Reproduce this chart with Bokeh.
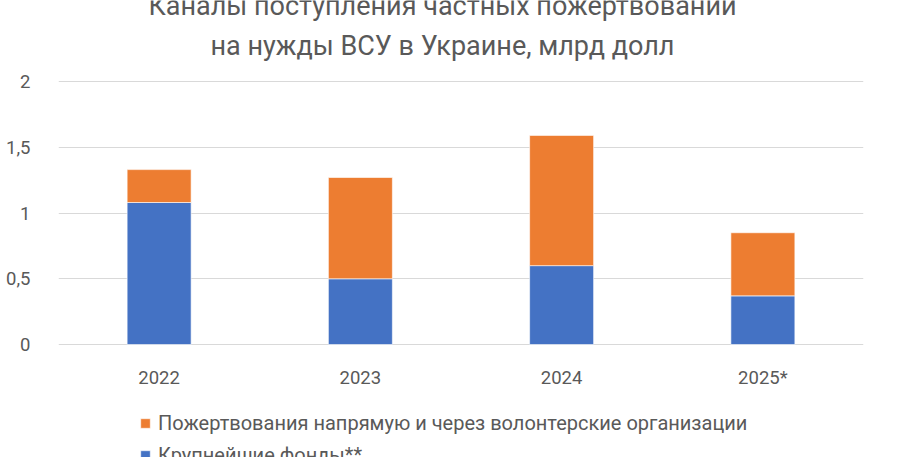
from bokeh.plotting import figure
from bokeh.models import FixedTicker, Legend, LegendItem, Label, Range1d
from bokeh.embed import file_html
from bokeh.resources import INLINE

years = ["2022", "2023", "2024", "2025*"]
funds = [1.08, 0.50, 0.60, 0.37]
direct = [0.25, 0.77, 0.99, 0.48]
y_ticks = [0, 0.5, 1, 1.5, 2]
y_tick_labels = ["0", "0,5", "1", "1,5", "2"]

title_lines = ["Каналы поступления частных пожертвований",
               "на нужды ВСУ в Украине, млрд долл"]
label_direct = "Пожертвования напрямую и через волонтерские организации"
label_funds = "Крупнейшие фонды**"

BLUE = "#4472C4"
ORANGE = "#ED7D31"
TEXT = "#595959"
GRID = "#D9D9D9"
FONT = "Roboto"

# frame covers the whole height so title and legend are not clipped;
# y range is padded so that 0..2 sits where the reference plot area is
p = figure(x_range=years, y_range=Range1d(-0.859, 2.616), width=884, height=457,
           output_backend="svg", toolbar_location=None, tools="",
           min_border_left=58, min_border_right=21,
           min_border_top=0, min_border_bottom=0)
p.outline_line_color = None
p.background_fill_color = "white"
p.border_fill_color = "white"

data = dict(years=years, funds=funds, direct=direct)
r = p.vbar_stack(["funds", "direct"], x="years", width=0.318, source=data,
                 color=[BLUE, ORANGE], line_color="white", line_alpha=0.6)

p.xgrid.grid_line_color = None
p.ygrid.grid_line_color = GRID
p.ygrid.grid_line_width = 1
p.ygrid.level = "underlay"

p.yaxis.ticker = FixedTicker(ticks=y_ticks)
p.yaxis.major_label_overrides = dict(zip(y_ticks, y_tick_labels))
p.xaxis.fixed_location = 0
for ax in (p.xaxis, p.yaxis):
    ax.axis_line_color = None
    ax.major_tick_line_color = None
    ax.minor_tick_line_color = None
    ax.major_label_text_color = TEXT
    ax.major_label_text_font = FONT
    ax.major_label_text_font_size = "18.5px"
p.yaxis.major_label_standoff = 22
p.xaxis.major_label_standoff = 16

legend = Legend(items=[LegendItem(label=label_direct, renderers=[r[1]]),
                       LegendItem(label=label_funds, renderers=[r[0]])],
                location=(81, -10), orientation="vertical",
                padding=0, margin=0, spacing=8,
                glyph_width=12, glyph_height=12, label_height=24,
                label_standoff=7, border_line_color=None,
                background_fill_alpha=0,
                label_text_font=FONT, label_text_font_size="20px",
                label_text_color=TEXT)
p.add_layout(legend, "center")

for txt, y in zip(title_lines, [451.7, 412]):
    p.add_layout(Label(x=384, y=y, x_units="screen", y_units="screen",
                       text=txt, text_align="center",
                       text_baseline="alphabetic", text_font=FONT,
                       text_font_size="27px", text_color=TEXT))

open("out.html", "w").write(file_html(p, INLINE))
